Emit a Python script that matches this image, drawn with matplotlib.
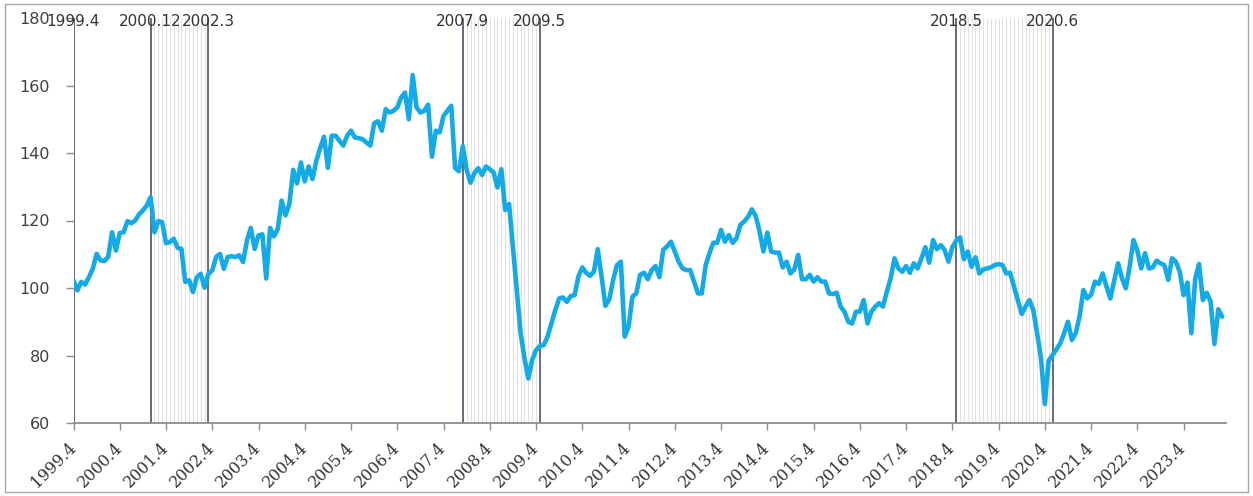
from matplotlib import pyplot as plt
from matplotlib.patches import Rectangle
import numpy as np

# monthly index 1999.4 - 2024.2, one row per fiscal year (Apr .. Mar)
index_values = [
    102.3, 99.3, 101.8, 101.0, 103.2, 105.7, 110.1, 108.2, 108.0, 109.2, 116.5, 111.1,
    116.3, 116.5, 119.8, 119.2, 120.0, 121.8, 123.0, 124.4, 126.9, 116.5, 119.8, 119.5,
    113.3, 113.6, 114.6, 111.9, 111.6, 101.8, 102.3, 98.8, 103.2, 104.2, 100.1, 104.2,
    105.2, 109.2, 110.1, 105.7, 109.2, 109.4, 109.2, 109.7, 107.7, 114.1, 117.8, 111.6,
    115.6, 115.9, 102.8, 117.8, 115.3, 117.5, 125.9, 121.5, 124.9, 135.0, 131.0, 137.2,
    131.6, 136.0, 132.3, 137.7, 141.5, 144.8, 135.6, 145.1, 145.1, 143.6, 142.2, 145.1,
    146.6, 144.6, 144.4, 144.1, 143.1, 142.2, 148.8, 149.4, 146.6, 153.0, 152.0, 152.5,
    153.5, 156.4, 157.9, 150.0, 163.1, 153.5, 152.0, 152.5, 154.3, 138.9, 146.6, 146.1,
    151.0, 152.5, 154.0, 135.6, 134.6, 142.0, 135.0, 131.2, 134.0, 135.5, 133.5, 136.0,
    135.2, 134.2, 129.8, 135.2, 123.1, 124.9, 112.3, 99.4, 86.6, 79.2, 73.2, 78.7,
    81.6, 82.8, 83.1, 85.6, 89.5, 93.5, 96.9, 97.2, 95.9, 97.6, 97.9, 103.4,
    106.1, 104.5, 103.6, 104.8, 111.5, 103.4, 94.7, 96.6, 102.4, 106.8, 107.8, 85.6,
    88.5, 97.4, 98.4, 103.9, 104.5, 102.6, 105.3, 106.5, 103.2, 111.3, 112.3, 113.7,
    110.8, 107.8, 105.8, 105.3, 105.3, 101.9, 98.4, 98.4, 106.8, 110.3, 113.4, 113.4,
    117.2, 113.7, 115.7, 113.4, 114.7, 118.7, 119.7, 121.1, 123.3, 121.3, 116.7, 110.8,
    116.4, 110.8, 110.5, 110.5, 106.1, 107.8, 104.3, 105.5, 109.8, 102.6, 102.6, 103.9,
    101.9, 103.2, 101.9, 101.9, 98.4, 98.2, 98.6, 94.5, 93.0, 90.0, 89.5, 93.0,
    93.0, 96.4, 89.5, 93.0, 94.5, 95.5, 94.5, 98.9, 102.9, 108.8, 105.8, 104.8,
    106.5, 104.5, 107.3, 105.8, 108.8, 112.1, 107.5, 114.2, 111.5, 112.7, 111.3, 107.8,
    112.1, 114.0, 115.0, 108.5, 110.8, 106.3, 109.1, 104.3, 105.5, 105.8, 106.1, 106.8,
    107.1, 106.8, 104.3, 104.5, 100.4, 96.4, 92.3, 94.5, 96.4, 93.5, 86.6, 79.2,
    65.6, 78.5, 80.1, 81.8, 83.6, 86.6, 90.0, 84.6, 86.6, 91.5, 99.4, 96.9,
    98.0, 101.9, 101.2, 104.3, 100.4, 96.9, 102.2, 107.3, 102.9, 99.9, 106.3, 114.2,
    111.1, 105.8, 110.3, 105.8, 106.1, 108.1, 107.3, 106.8, 102.4, 108.8, 107.8, 104.8,
    97.9, 101.6, 86.6, 102.6, 107.1, 96.4, 98.6, 96.0, 83.4, 93.7, 91.5,
]

tick_labels = ["%d.4" % y for y in range(1999, 2024)]
marker_labels = ["1999.4", "2000.12", "2002.3", "2007.9", "2009.5", "2018.5", "2020.6"]
recessions = [("2000.12", "2002.3"), ("2007.9", "2009.5"), ("2018.5", "2020.6")]


def month_index(label):
    # "2007.9" -> months since 1999.4
    year, month = label.split(".")
    return (int(year) - 1999) * 12 + int(month) - 4


fig = plt.figure(figsize=(12.53, 4.96), dpi=100)
ax = fig.add_axes([73.5 / 1253, 73 / 496, (1226 - 73.5) / 1253, 405 / 496])

# thin grey line for every month inside a recession
for start, end in recessions:
    for m in range(month_index(start) + 1, month_index(end)):
        ax.axvline(m, color='#e2e2e2', lw=0.8, zorder=1)

# peak / trough lines with their labels on top
for label in marker_labels:
    m = month_index(label)
    ax.axvline(m, color='#56606f', lw=1.3, zorder=2)
    ax.text(m, 179, label, ha='center', va='center', fontsize=11, color='#333333', zorder=4)

x = np.arange(len(index_values))
ax.plot(x, index_values, color='#13aae6', lw=3.3, zorder=3, solid_joinstyle='round', solid_capstyle='round')

ax.set_xlim(0, 299)
ax.set_ylim(60, 180)
ax.set_yticks(range(60, 181, 20))
ax.set_xticks(range(0, 300, 12))
ax.set_xticklabels(tick_labels, rotation=45, ha='right', va='center', rotation_mode='anchor',
                   family='DejaVu Serif', fontsize=11.5, color='#333333')

for side in ['top', 'right', 'left']:
    ax.spines[side].set_visible(False)
ax.spines['bottom'].set_color('#8c8c8c')
ax.spines['bottom'].set_linewidth(1.3)

ax.tick_params(axis='y', length=6, width=1, color='#8c8c8c', pad=11, labelsize=11.5, labelcolor='#404040')
ax.tick_params(axis='x', length=5, width=1, color='#8c8c8c', pad=11)

# chart area border
fig.patches.append(Rectangle((0.004, 0.008), 0.992, 0.984, transform=fig.transFigure,
                             fill=False, edgecolor='#a6a6a6', lw=1))

fig.savefig('out.png', dpi=100)
